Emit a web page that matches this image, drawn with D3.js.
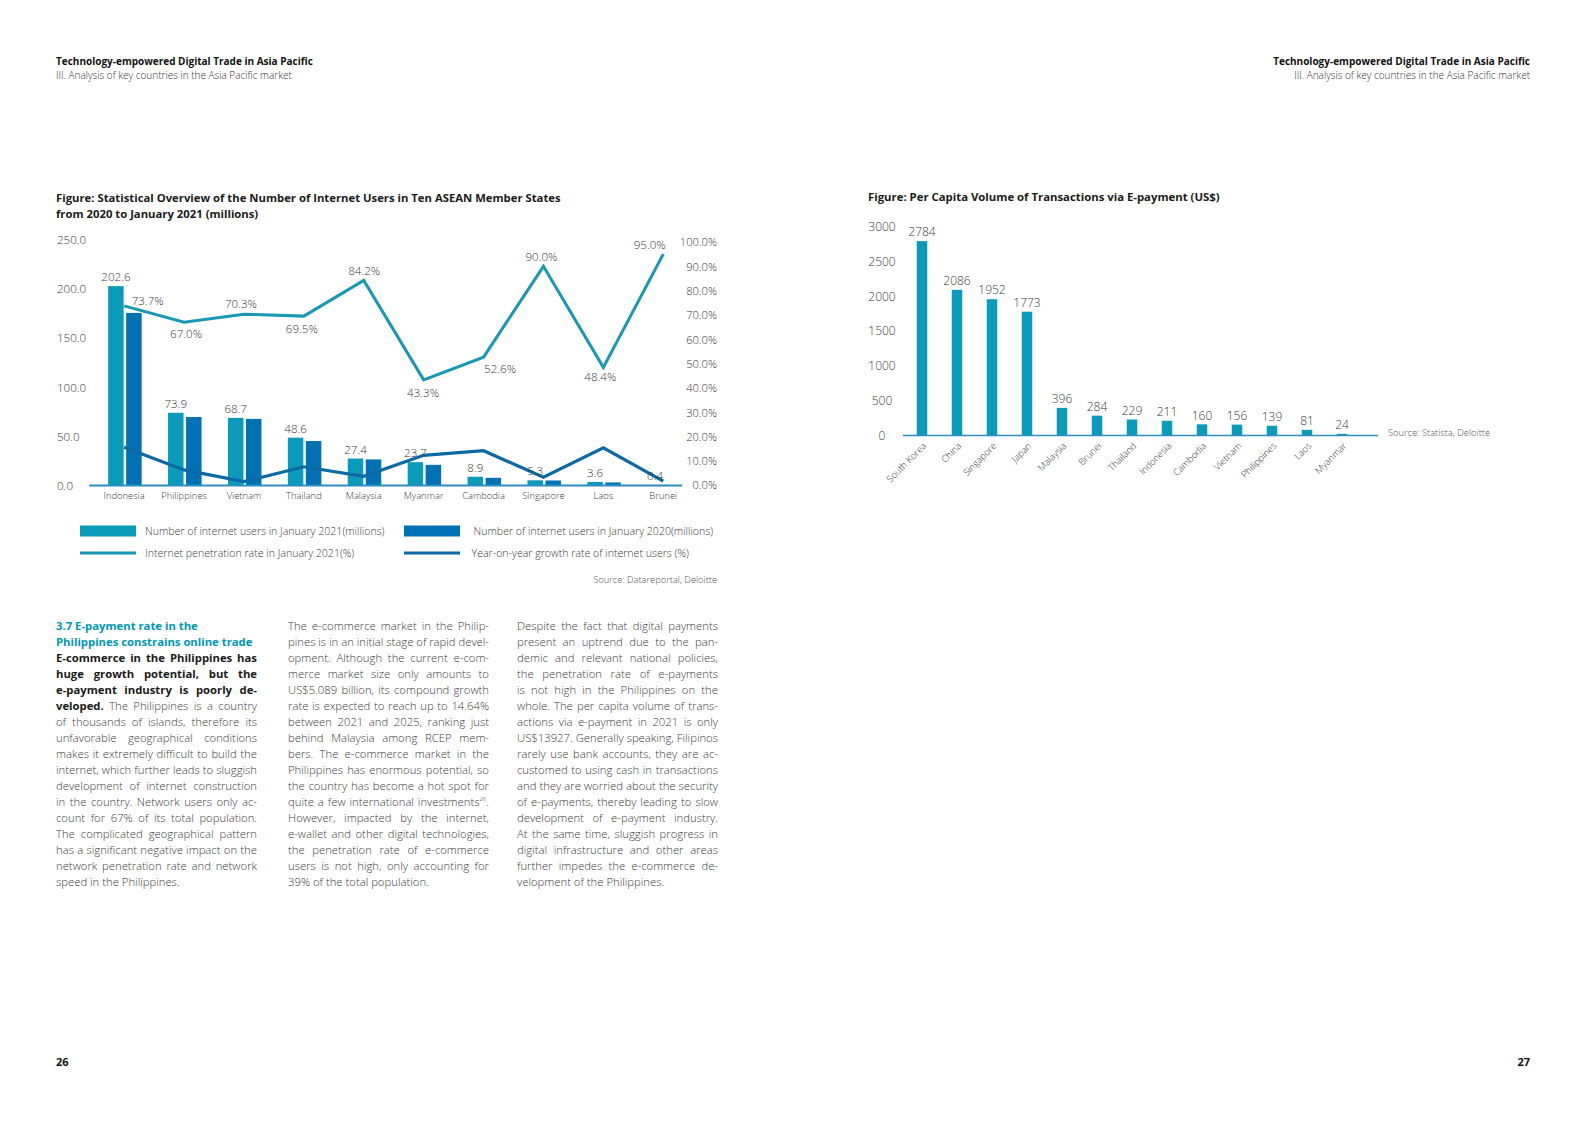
<!DOCTYPE html>
<html><head><meta charset="utf-8">
<script src="https://cdn.jsdelivr.net/npm/d3@7"></script>
<style>
body{margin:0;background:#fff;font-family:'Open Sans',sans-serif;}
#page{position:relative;width:1587px;height:1122px;overflow:hidden;background:#fff;}
svg{position:absolute;left:0;top:0;}
.col{position:absolute;width:201px;font-size:11.3px;line-height:16px;color:#3a3a3a;font-weight:300;}
.col div{height:16px;white-space:nowrap;}
.col b{font-weight:700;color:#1a1a1a;}
.col .hd{font-weight:700;color:#0097b2;}
.col sup{font-size:6px;vertical-align:5px;line-height:0;}
</style></head>
<body><div id="page"></div>
<script>
// ---------- data ----------
const countries = ["Indonesia","Philippines","Vietnam","Thailand","Malaysia","Myanmar","Cambodia","Singapore","Laos","Brunei"];
const users2021 = [202.6,73.9,68.7,48.6,27.4,23.7,8.9,5.3,3.6,0.4];
const users2020 = [175.4,69.6,67.7,45.2,26.5,21.0,7.8,5.1,3.1,0.4];
const penetration2021 = [73.7,67.0,70.3,69.5,84.2,43.3,52.6,90.0,48.4,95.0];
const growthRate = [15.5,6.2,1.4,7.5,3.6,12.2,14.1,3.2,15.3,1.6];
const leftTicks = [0,50,100,150,200,250];
const rightTicks = [0,10,20,30,40,50,60,70,80,90,100];

const payCountries = ["South Korea","China","Singapore","Japan","Malaysia","Brunei","Thailand","Indonesia","Cambodia","Vietnam","Philippines","Laos","Myanmar"];
const payValues = [2784,2086,1952,1773,396,284,229,211,160,156,139,81,24];
const payTicks = [0,500,1000,1500,2000,2500,3000];

// label offsets (layout only) for penetration labels [dx, dy]
const penLabelOffset = [[23.6,-5.3],[2,12],[-3,-10.6],[-2,13],[0.5,-9],[-0.6,13],[16.5,12],[-2,-9],[-3,10],[-13.5,-9]];

// ---------- colours ----------
const C21 = "#0a9bba", C20 = "#0072b4", CPEN = "#1898b4", CGRO = "#0b6aa6", CAX = "#2a8fc0", CTXT = "#3a3a3a";
const FONT = "'Open Sans', sans-serif";

const svg = d3.select("#page").append("svg").attr("width",1587).attr("height",1122);

function text(x,y,s,o={}){
  return svg.append("text").attr("x",x).attr("y",y).text(s)
    .attr("font-family",FONT).attr("font-size",o.size||10)
    .attr("font-weight",o.weight||300).attr("fill",o.fill||CTXT)
    .attr("text-anchor",o.anchor||"start");
}

// ---------- headers ----------
text(56,65,"Technology-empowered Digital Trade in Asia Pacific",{size:10,weight:700,fill:"#111"});
text(56,79,"III. Analysis of key countries in the Asia Pacific market",{size:10,fill:"#333"});
text(1530,65,"Technology-empowered Digital Trade in Asia Pacific",{size:10,weight:700,fill:"#111",anchor:"end"});
text(1530,79,"III. Analysis of key countries in the Asia Pacific market",{size:10,fill:"#333",anchor:"end"});
text(56,1066,"26",{size:11,weight:700,fill:"#111"});
text(1530,1066,"27",{size:11,weight:700,fill:"#111",anchor:"end"});

// ---------- left chart ----------
text(56,202,"Figure: Statistical Overview of the Number of Internet Users in Ten ASEAN Member States",{size:11.3,weight:700,fill:"#1a1a1a"});
text(56,218,"from 2020 to January 2021 (millions)",{size:11.3,weight:700,fill:"#1a1a1a"});

const xL = d3.scaleBand().domain(countries).range([94.2,693.2]);
const yL = d3.scaleLinear().domain([0,250]).range([485.5,239.5]);
const yR = d3.scaleLinear().domain([0,100]).range([485,242]);
const cx = d => xL(d) + xL.bandwidth()/2;
const BW = 15.5;

const gL = svg.append("g");
const axL = gL.append("g").call(d3.axisLeft(yL).tickValues(leftTicks).tickFormat(d3.format(".1f")).tickSize(0));
axL.select(".domain").remove();
axL.selectAll("text").attr("x",57).attr("text-anchor","start").attr("dy","0.35em")
  .attr("font-family",FONT).attr("font-size",11.6).attr("font-weight",300).attr("fill",CTXT);
const axR = gL.append("g").call(d3.axisRight(yR).tickValues(rightTicks).tickFormat(d=>d.toFixed(1)+"%").tickSize(0));
axR.select(".domain").remove();
axR.selectAll("text").attr("x",717).attr("text-anchor","end").attr("dy","0.35em")
  .attr("font-family",FONT).attr("font-size",11.2).attr("font-weight",300).attr("fill",CTXT);

gL.selectAll(".b21").data(countries).join("rect")
  .attr("x",d=>cx(d)-16).attr("width",BW)
  .attr("y",(d,i)=>yL(users2021[i])).attr("height",(d,i)=>yL(0)-yL(users2021[i])).attr("fill",C21);
gL.selectAll(".b20").data(countries).join("rect")
  .attr("x",d=>cx(d)+2).attr("width",BW)
  .attr("y",(d,i)=>yL(users2020[i])).attr("height",(d,i)=>yL(0)-yL(users2020[i])).attr("fill",C20);

const axX = gL.append("g").attr("transform",`translate(0,${yL(0)})`)
  .call(d3.axisBottom(xL).tickSize(0));
axX.select(".domain").remove();
axX.selectAll("text").attr("dy",0).attr("y",13)
  .attr("font-family",FONT).attr("font-size",9.4).attr("font-weight",300).attr("fill",CTXT);
gL.append("line").attr("x1",xL.range()[0]-5).attr("x2",xL.range()[1]-11)
  .attr("y1",yL(0)).attr("y2",yL(0)).attr("stroke",CAX).attr("stroke-width",2);

const pLine = d3.line().x((d,i)=>cx(countries[i])).y(d=>yR(d));
gL.append("path").datum(penetration2021).attr("d",pLine).attr("fill","none")
  .attr("stroke",CPEN).attr("stroke-width",3).attr("stroke-linejoin","miter");
gL.append("path").datum(growthRate).attr("d",pLine).attr("fill","none")
  .attr("stroke",CGRO).attr("stroke-width",3.2).attr("stroke-linejoin","miter");

gL.selectAll(".v21").data(countries).join("text")
  .attr("x",d=>cx(d)-8.25).attr("y",(d,i)=>yL(users2021[i])-9).attr("dy","0.35em")
  .attr("text-anchor","middle").text((d,i)=>users2021[i].toFixed(1))
  .attr("font-family",FONT).attr("font-size",11.6).attr("font-weight",300).attr("fill",CTXT);
gL.selectAll(".pl").data(countries).join("text")
  .attr("x",(d,i)=>cx(d)+penLabelOffset[i][0]).attr("y",(d,i)=>yR(penetration2021[i])+penLabelOffset[i][1]).attr("dy","0.35em")
  .attr("text-anchor","middle").text((d,i)=>penetration2021[i].toFixed(1)+"%")
  .attr("font-family",FONT).attr("font-size",11.6).attr("font-weight",300).attr("fill",CTXT);

// legend
const leg = [
  {t:"Number of internet users in January 2021(millions)",c:C21,type:"rect",x:80,y:531,tx:145},
  {t:"Number of internet users in January 2020(millions)",c:C20,type:"rect",x:404,y:531,tx:473.6},
  {t:"Internet penetration rate in January 2021(%)",c:CPEN,type:"line",x:80,y:553,tx:145},
  {t:"Year-on-year growth rate of internet users (%)",c:CGRO,type:"line",x:404,y:553,tx:471.6}
];
leg.forEach(l=>{
  if(l.type==="rect") svg.append("rect").attr("x",l.x).attr("y",l.y-5.5).attr("width",56).attr("height",11).attr("fill",l.c);
  else svg.append("line").attr("x1",l.x).attr("x2",l.x+56).attr("y1",l.y).attr("y2",l.y).attr("stroke",l.c).attr("stroke-width",3);
  text(l.tx,l.y,l.t,{size:10.6}).attr("dy","0.35em");
});
text(717,580,"Source: Datareportal, Deloitte",{size:9.3,anchor:"end",fill:"#555"}).attr("dy","0.35em");

// ---------- right chart ----------
text(868,201,"Figure: Per Capita Volume of Transactions via E-payment (US$)",{size:11.35,weight:700,fill:"#1a1a1a"});
const xP = d3.scaleBand().domain(payCountries).range([904.5,1359.5]);
const yP = d3.scaleLinear().domain([0,3000]).range([435.5,226]);
const pc = d => xP(d)+xP.bandwidth()/2;
const gR = svg.append("g");
const axP = gR.append("g").call(d3.axisLeft(yP).tickValues(payTicks).tickFormat(d3.format("d")).tickSize(0));
axP.select(".domain").remove();
axP.selectAll("text").attr("x",882).attr("text-anchor","middle").attr("dy","0.35em")
  .attr("font-family",FONT).attr("font-size",12).attr("font-weight",300).attr("fill",CTXT);
gR.selectAll(".pb").data(payCountries).join("rect")
  .attr("x",d=>pc(d)-5.25).attr("width",10.5)
  .attr("y",(d,i)=>yP(payValues[i])).attr("height",(d,i)=>yP(0)-yP(payValues[i])).attr("fill",C21);
gR.append("line").attr("x1",903).attr("x2",1378).attr("y1",yP(0)).attr("y2",yP(0))
  .attr("stroke",CAX).attr("stroke-width",1.6);
gR.selectAll(".pv").data(payCountries).join("text")
  .attr("x",d=>pc(d)).attr("y",(d,i)=>yP(payValues[i])-9).attr("dy","0.35em")
  .attr("text-anchor","middle").text((d,i)=>payValues[i])
  .attr("font-family",FONT).attr("font-size",12).attr("font-weight",300).attr("fill",CTXT);
const axPX = gR.append("g").attr("transform",`translate(0,${yP(0)})`).call(d3.axisBottom(xP).tickSize(0));
axPX.select(".domain").remove();
axPX.selectAll("text").attr("y",0).attr("dy",0).attr("text-anchor","end")
  .attr("transform","translate(5,11) rotate(-45)")
  .attr("font-family",FONT).attr("font-size",9.3).attr("font-weight",300).attr("fill",CTXT);
text(1388,433,"Source: Statista, Deloitte",{size:9.35,fill:"#555"}).attr("dy","0.35em");

// ---------- body text ----------
const col1 = [
 '<span class="hd">3.7 E-payment rate in the</span>|L',
 '<span class="hd">Philippines constrains online trade</span>|L',
 '<b>E-commerce in the Philippines has</b>',
 '<b>huge growth potential, but the</b>',
 '<b>e-payment industry is poorly de-</b>',
 '<b>veloped.</b> The Philippines is a country',
 'of thousands of islands, therefore its',
 'unfavorable geographical conditions',
 'makes it extremely difficult to build the',
 'internet, which further leads to sluggish',
 'development of internet construction',
 'in the country. Network users only ac-',
 'count for 67% of its total population.',
 'The complicated geographical pattern',
 'has a significant negative impact on the',
 'network penetration rate and network',
 'speed in the Philippines.|L'
];
const col2 = [
 'The e-commerce market in the Philip-',
 'pines is in an initial stage of rapid devel-',
 'opment. Although the current e-com-',
 'merce market size only amounts to',
 'US$5.089 billion, its compound growth',
 'rate is expected to reach up to 14.64%',
 'between 2021 and 2025, ranking just',
 'behind Malaysia among RCEP mem-',
 'bers. The e-commerce market in the',
 'Philippines has enormous potential, so',
 'the country has become a hot spot for',
 'quite a few international investments<sup>26</sup>.',
 'However, impacted by the internet,',
 'e-wallet and other digital technologies,',
 'the penetration rate of e-commerce',
 'users is not high, only accounting for',
 '39% of the total population.|L'
];
const col3 = [
 'Despite the fact that digital payments',
 'present an uptrend due to the pan-',
 'demic and relevant national policies,',
 'the penetration rate of e-payments',
 'is not high in the Philippines on the',
 'whole. The per capita volume of trans-',
 'actions via e-payment in 2021 is only',
 'US$13927. Generally speaking, Filipinos',
 'rarely use bank accounts, they are ac-',
 'customed to using cash in transactions',
 'and they are worried about the security',
 'of e-payments, thereby leading to slow',
 'development of e-payment industry.',
 'At the same time, sluggish progress in',
 'digital infrastructure and other areas',
 'further impedes the e-commerce de-',
 'velopment of the Philippines.|L'
];
const COLW = 201;
[[col1,56],[col2,288],[col3,517]].forEach(([lines,x])=>{
  const c = d3.select("#page").append("div").attr("class","col").style("left",x+"px").style("top","617.5px");
  c.selectAll("div").data(lines).join("div").each(function(d){
    const last = d.endsWith("|L");
    const span = d3.select(this).append("span").html(d.replace("|L",""));
    const w = span.node().getBoundingClientRect().width;
    const nSp = (span.node().textContent.match(/ /g)||[]).length;
    if ((!last || w > COLW) && nSp > 0) span.style("word-spacing", ((COLW - w)/nSp) + "px");
  });
});
</script>
</body></html>
